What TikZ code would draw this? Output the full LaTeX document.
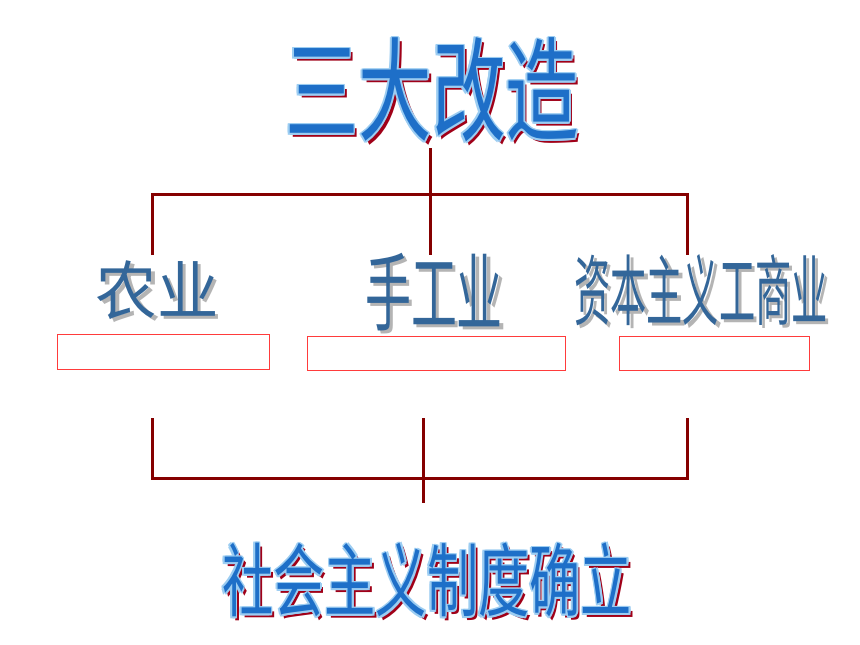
\documentclass[tikz,border=0pt]{standalone}
\usepackage{fontspec}
\usepackage{graphicx}
\newfontfamily\cjk{Noto Sans CJK SC}
\usetikzlibrary{calc}
\definecolor{mainblue}{HTML}{1E6FC8}
\definecolor{haloblue}{HTML}{9CCDF2}
\definecolor{shadowred}{HTML}{A00018}
\definecolor{labelblue}{HTML}{336699}
\definecolor{labelshadow}{HTML}{B4B4B4}
\definecolor{linered}{HTML}{850000}
\definecolor{boxred}{HTML}{FF3B3B}
\newcommand\fancytitle[5]{% name, position, size, xscale, text
  \node[txt, text=shadowred] at ($(#2)+(3.5,3.5)$) {\fontsize{#3}{#3}\cjk\scalebox{#4}[1]{#5}};
  \foreach \dx/\dy in {-1.4/-1.4,0/-1.6,1.4/-1.4,-1.6/0,1.6/0,-1.4/1.4,0/1.6,1.4/1.4}
    \node[txt, text=haloblue] at ($(#2)+(\dx,\dy)$) {\fontsize{#3}{#3}\cjk\scalebox{#4}[1]{#5}};
  \node[txt, text=mainblue] (#1) at (#2) {\fontsize{#3}{#3}\cjk\scalebox{#4}[1]{#5}};
}
\newcommand\fancylabel[5]{% name, position, size, xscale, text
  \node[txt, text=labelshadow] at ($(#2)+(3.5,3.5)$) {\fontsize{#3}{#3}\cjk\scalebox{#4}[1]{#5}};
  \node[txt, text=labelblue] (#1) at (#2) {\fontsize{#3}{#3}\cjk\scalebox{#4}[1]{#5}};
}
\begin{document}
\begin{tikzpicture}[x=1pt,y=-1pt,
  txt/.style={inner sep=0pt, outer sep=0pt},
  bracket/.style={draw=linered, line width=3pt, line join=miter},
  ansbox/.style={draw=boxred, line width=0.9pt, inner sep=0pt}]
\useasboundingbox[fill=white] (0,0) rectangle (860,645);
% texts
\fancytitle{title}{432,90}{113}{0.65}{三大改造}
\fancylabel{agri}{157,290}{64}{0.96}{农业}
\fancylabel{hand}{434,292}{85}{0.54}{手工业}
\fancylabel{comm}{701,290}{77}{0.47}{资本主义工商业}
\fancytitle{result}{427,580}{80}{0.64}{社会主义制度确立}
% answer boxes
\node[ansbox, minimum width=212pt, minimum height=35pt] (box1) at (163,351.5) {};
\node[ansbox, minimum width=258pt, minimum height=34pt] (box2) at (436,353) {};
\node[ansbox, minimum width=190pt, minimum height=34pt] (box3) at (714,353) {};
% top bracket
\coordinate (t0) at (430,148);
\coordinate (tl) at (152,194);
\coordinate (tr) at (687,194);
\coordinate (l1) at (152,255);
\coordinate (m1) at (430,255);
\coordinate (r1) at (687,255);
\draw[bracket] (t0) -- (m1);
\draw[bracket] (l1) -- (tl) -- (tr) -- (r1);
% bottom bracket
\coordinate (l2) at (152,418);
\coordinate (m2) at (423,418);
\coordinate (r2) at (687,418);
\coordinate (bl) at (152,478);
\coordinate (br) at (687,478);
\coordinate (b0) at (423,503);
\draw[bracket] (l2) -- (bl) -- (br) -- (r2);
\draw[bracket] (m2) -- (b0);
\end{tikzpicture}
\end{document}
